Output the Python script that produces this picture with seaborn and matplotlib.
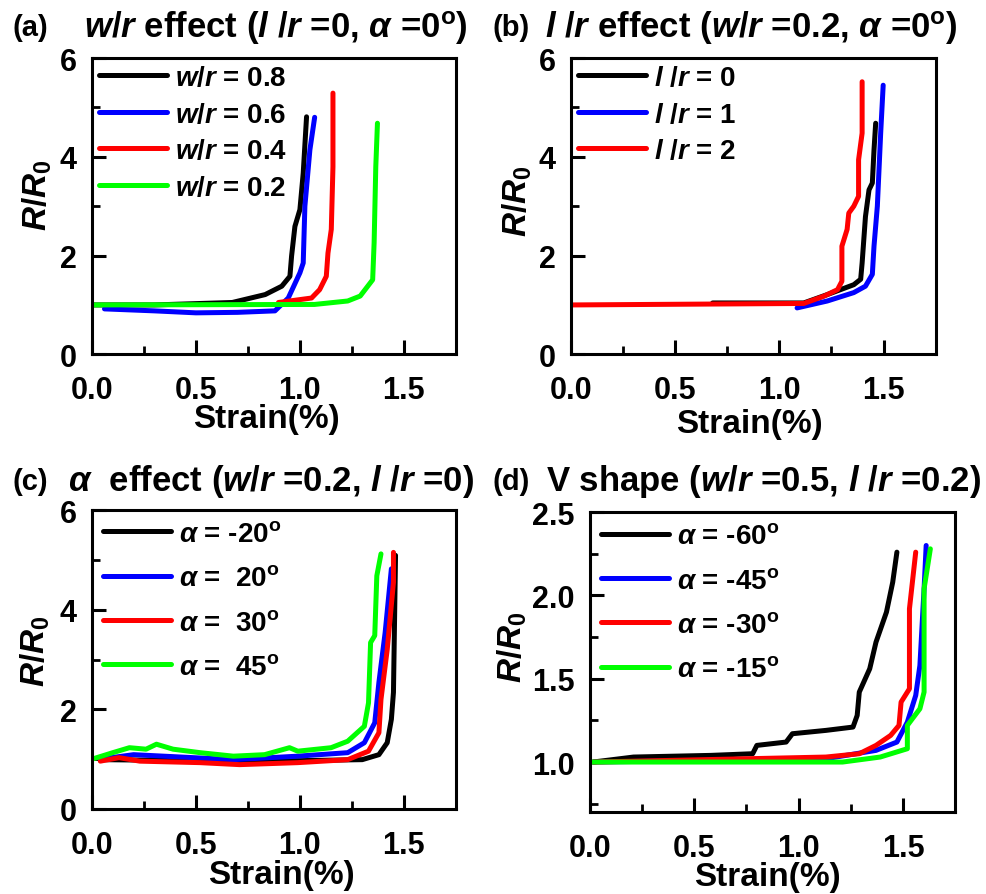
import numpy as np
import pandas as pd
import seaborn as sns
import matplotlib
matplotlib.use("Agg")
import matplotlib.pyplot as plt
from matplotlib.ticker import MultipleLocator, FormatStrFormatter

# ---------------- data ----------------
# (a) w/r effect
a_labels = ["0.8", "0.6", "0.4", "0.2"]
a_x_08 = [0.0, 0.3, 0.675, 0.833, 0.913, 0.952, 0.96, 0.976, 1.0, 1.016, 1.032]
a_y_08 = [1.0, 1.0, 1.05, 1.21, 1.38, 1.58, 1.99, 2.59, 2.93, 3.67, 4.81]
a_x_06 = [0.06, 0.3, 0.5, 0.7, 0.88, 0.944, 1.0, 1.016, 1.024, 1.048, 1.071]
a_y_06 = [0.92, 0.88, 0.84, 0.85, 0.88, 1.14, 1.65, 1.85, 3.0, 4.14, 4.8]
a_x_04 = [0.897, 1.056, 1.095, 1.127, 1.135, 1.151, 1.159, 1.159]
a_y_04 = [1.05, 1.14, 1.31, 1.58, 2.05, 2.53, 3.8, 5.29]
a_x_02 = [0.0, 1.07, 1.23, 1.29, 1.35, 1.357, 1.365, 1.373]
a_y_02 = [1.0, 1.01, 1.08, 1.18, 1.51, 2.26, 3.8, 4.68]

# (b) l/r effect
b_labels = ["0", "1", "2"]
b_x_0 = [0.68, 1.117, 1.23, 1.357, 1.39, 1.397, 1.413, 1.43, 1.446, 1.454, 1.462]
b_y_0 = [1.04, 1.04, 1.21, 1.41, 1.52, 1.85, 2.79, 3.33, 3.47, 4.14, 4.68]
b_x_1 = [1.085, 1.23, 1.357, 1.413, 1.446, 1.454, 1.47, 1.486, 1.498]
b_y_1 = [0.94, 1.08, 1.25, 1.38, 1.62, 2.19, 3.0, 4.48, 5.45]
b_x_2 = [0.0, 1.117, 1.215, 1.279, 1.30, 1.30, 1.325, 1.333, 1.357, 1.38, 1.38, 1.397, 1.397]
b_y_2 = [1.0, 1.03, 1.18, 1.31, 1.48, 2.19, 2.53, 2.86, 3.0, 3.2, 3.94, 4.48, 5.52]

# (c) alpha effect
c_labels = ["-20", " 20", " 30", " 45"]
c_x_m20 = [0.04, 0.5, 1.0, 1.3, 1.38, 1.42, 1.44, 1.45, 1.46]
c_y_m20 = [0.99, 0.97, 0.97, 0.99, 1.09, 1.33, 1.8, 2.34, 5.09]
c_x_20 = [0.04, 0.2, 0.68, 0.99, 1.23, 1.31, 1.36, 1.38, 1.41, 1.44]
c_y_20 = [1.0, 1.09, 0.99, 1.06, 1.13, 1.33, 1.73, 2.54, 3.54, 4.82]
c_x_30 = [0.04, 0.13, 0.23, 0.52, 0.71, 0.99, 1.23, 1.33, 1.38, 1.39, 1.42, 1.45, 1.45]
c_y_30 = [0.96, 1.03, 0.96, 0.93, 0.89, 0.93, 0.99, 1.16, 1.53, 2.2, 3.2, 4.55, 5.15]
c_x_45 = [0.0, 0.1, 0.18, 0.26, 0.31, 0.39, 0.52, 0.68, 0.83, 0.95, 0.99, 1.15, 1.23, 1.31, 1.33, 1.34, 1.36, 1.37, 1.39]
c_y_45 = [1.0, 1.13, 1.23, 1.2, 1.3, 1.2, 1.13, 1.06, 1.09, 1.23, 1.16, 1.23, 1.36, 1.66, 2.13, 3.34, 3.48, 4.68, 5.12]

# (d) V shape
d_labels = ["-60", "-45", "-30", "-15"]
d_x_m60 = [0.016, 0.21, 0.58, 0.78, 0.8, 0.94, 0.97, 1.13, 1.26, 1.28, 1.29, 1.34, 1.37, 1.42, 1.45, 1.47]
d_y_m60 = [1.0, 1.03, 1.04, 1.05, 1.1, 1.12, 1.17, 1.19, 1.21, 1.28, 1.42, 1.56, 1.72, 1.9, 2.08, 2.26]
d_x_m45 = [0.02, 1.13, 1.37, 1.47, 1.52, 1.56, 1.58, 1.6, 1.61]
d_y_m45 = [1.0, 1.02, 1.07, 1.12, 1.24, 1.4, 1.58, 2.04, 2.3]
d_x_m30 = [0.02, 1.13, 1.29, 1.37, 1.44, 1.48, 1.49, 1.53, 1.53, 1.56]
d_y_m30 = [1.0, 1.03, 1.05, 1.1, 1.16, 1.22, 1.36, 1.44, 1.92, 2.26]
d_x_m15 = [0.0, 1.21, 1.39, 1.52, 1.52, 1.58, 1.6, 1.6, 1.63]
d_y_m15 = [1.0, 1.0, 1.03, 1.08, 1.22, 1.32, 1.42, 2.04, 2.28]

colors4 = ["#000000", "#0000ff", "#ff0000", "#00ff00"]

# ---------------- style ----------------
sns.set_style("ticks")
plt.rcParams["font.family"] = ["Liberation Sans", "DejaVu Sans"]
plt.rcParams["font.weight"] = "bold"
plt.rcParams["axes.labelweight"] = "bold"
plt.rcParams["mathtext.fontset"] = "custom"
plt.rcParams["mathtext.it"] = "Liberation Sans:italic:bold"
plt.rcParams["mathtext.rm"] = "Liberation Sans:bold"
plt.rcParams["mathtext.bf"] = "Liberation Sans:bold"
plt.rcParams["mathtext.default"] = "it"
for k in ["text.color", "axes.labelcolor", "xtick.color", "ytick.color", "axes.edgecolor"]:
    plt.rcParams[k] = "black"

fig = plt.figure(figsize=(9.86, 8.95), dpi=100)
fig.patch.set_facecolor("white")

pos = {
    "a": [0.0933, 0.603, 0.369, 0.331],
    "b": [0.579, 0.603, 0.370, 0.331],
    "c": [0.0933, 0.095, 0.369, 0.334],
    "d": [0.598, 0.0916, 0.371, 0.335],
}
# label anchor positions (axes coords): ylabel (x, y), xlabel (x, y)
lab_pos = {
    "a": ((-0.105, 0.54), (0.48, -0.165)),
    "b": ((-0.10, 0.52), (0.49, -0.18)),
    "c": ((-0.11, 0.53), (0.52, -0.168)),
    "d": ((-0.165, 0.553), (0.486, -0.165)),
}

def make_df(xs, ys, labels):
    frames = []
    for x, y, lab in zip(xs, ys, labels):
        frames.append(pd.DataFrame({"strain": x, "R": y, "series": lab}))
    return pd.concat(frames, ignore_index=True)

def style_axes(ax, key, ylim, ymajor, yminor, yfmt):
    ax.set_xlim(0, 1.75)
    ax.set_ylim(*ylim)
    ax.xaxis.set_major_locator(MultipleLocator(0.5))
    ax.xaxis.set_minor_locator(MultipleLocator(0.25))
    ax.yaxis.set_major_locator(MultipleLocator(ymajor))
    ax.yaxis.set_minor_locator(MultipleLocator(yminor))
    ax.xaxis.set_major_formatter(FormatStrFormatter("%.1f"))
    ax.yaxis.set_major_formatter(FormatStrFormatter(yfmt))
    ax.tick_params(which="major", direction="in", length=10, width=2.2,
                   labelsize=22, top=False, right=False)
    ax.tick_params(axis="x", which="major", pad=15)
    ax.tick_params(axis="y", which="major", pad=11)
    ax.tick_params(which="minor", direction="in", length=6, width=2.0,
                   top=False, right=False)
    for sp in ax.spines.values():
        sp.set_linewidth(2.2)
        sp.set_visible(True)
    ax.set_xlabel("Strain(%)", fontsize=24, fontweight="bold")
    ax.set_ylabel(r"$R/R_{\rm 0}$", fontsize=24)
    (yx, yy), (xx, xy) = lab_pos[key]
    ax.yaxis.set_label_coords(yx, yy)
    ax.xaxis.set_label_coords(xx, xy)

def draw(ax, df, labels, legend_labels, colors, ls, bpad):
    sns.lineplot(data=df, x="strain", y="R", hue="series", hue_order=labels,
                 palette=colors, sort=False, estimator=None, linewidth=3.6,
                 ax=ax, legend=True)
    handles, _ = ax.get_legend_handles_labels()
    ax.legend(handles, legend_labels, loc="upper left", frameon=False,
              fontsize=20, handlelength=2.45, handletextpad=0.3,
              labelspacing=ls, borderaxespad=0.1, borderpad=bpad)

# (a)
ax = fig.add_axes(pos["a"])
df = make_df([a_x_08, a_x_06, a_x_04, a_x_02], [a_y_08, a_y_06, a_y_04, a_y_02], a_labels)
draw(ax, df, a_labels, [r"$w/r$ = %s" % s for s in a_labels], colors4, 0.38, 0.15)
style_axes(ax, "a", (0, 6), 2, 1, "%d")

# (b)
ax = fig.add_axes(pos["b"])
df = make_df([b_x_0, b_x_1, b_x_2], [b_y_0, b_y_1, b_y_2], b_labels)
draw(ax, df, b_labels, [r"$l$ /$r$ = %s" % s for s in b_labels], colors4[:3], 0.38, 0.15)
style_axes(ax, "b", (0, 6), 2, 1, "%d")

# (c)
ax = fig.add_axes(pos["c"])
df = make_df([c_x_m20, c_x_20, c_x_30, c_x_45], [c_y_m20, c_y_20, c_y_30, c_y_45], c_labels)
draw(ax, df, c_labels, [r"$\alpha$ = %s$^{\rm o}$" % s for s in c_labels], colors4, 0.66, 0.3)
style_axes(ax, "c", (0, 6), 2, 1, "%d")

# (d)
ax = fig.add_axes(pos["d"])
df = make_df([d_x_m60, d_x_m45, d_x_m30, d_x_m15], [d_y_m60, d_y_m45, d_y_m30, d_y_m15], d_labels)
draw(ax, df, d_labels, [r"$\alpha$ = %s$^{\rm o}$" % s for s in d_labels], colors4, 0.66, 0.3)
style_axes(ax, "d", (0.7, 2.5), 0.5, 0.25, "%.1f")

# panel titles
fig.text(12/986, 1 - 28/895, "(a)", fontsize=21, fontweight="bold", va="center", ha="left")
fig.text(84/986, 1 - 28/895, r"$w/r$ effect ($l$ /$r$ =0, $\alpha$ =0$^{\rm o}$)", fontsize=25, va="center", ha="left")
fig.text(493/986, 1 - 28/895, "(b)", fontsize=21, fontweight="bold", va="center", ha="left")
fig.text(545/986, 1 - 28/895, r"$l$ /$r$ effect ($w/r$ =0.2, $\alpha$ =0$^{\rm o}$)", fontsize=25, va="center", ha="left")
fig.text(12/986, 1 - 482/895, "(c)", fontsize=21, fontweight="bold", va="center", ha="left")
fig.text(68/986, 1 - 482/895, r"$\alpha$  effect ($w/r$ =0.2, $l$ /$r$ =0)", fontsize=25, va="center", ha="left")
fig.text(493/986, 1 - 482/895, "(d)", fontsize=21, fontweight="bold", va="center", ha="left")
fig.text(546/986, 1 - 482/895, r"V shape ($w/r$ =0.5, $l$ /$r$ =0.2)", fontsize=25, va="center", ha="left")

fig.savefig("out.png", dpi=100)
